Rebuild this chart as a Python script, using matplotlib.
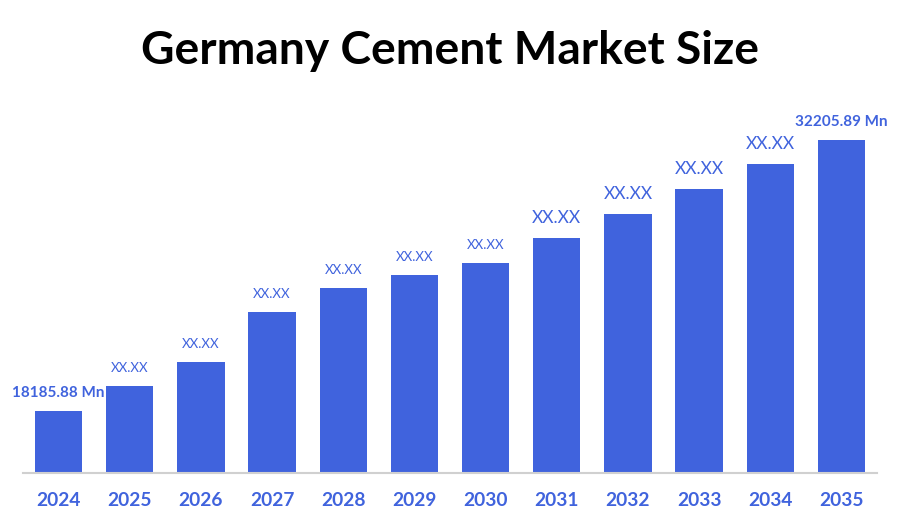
#!/usr/bin/env python3
"""Germany cement market size bar chart"""
import matplotlib
matplotlib.use('Agg')
import matplotlib.pyplot as plt

years = ['2024', '2025', '2026', '2027', '2028', '2029',
         '2030', '2031', '2032', '2033', '2034', '2035']
values = [18185.88, 19479, 20720, 23307, 24548, 25221,
          25842, 27135, 28377, 29670, 30963, 32205.89]
bar_labels = ['18185.88 Mn', 'XX.XX', 'XX.XX', 'XX.XX', 'XX.XX', 'XX.XX',
              'XX.XX', 'XX.XX', 'XX.XX', 'XX.XX', 'XX.XX', '32205.89 Mn']

BLUE = '#4063DD'
W, H = 900, 525

plt.rcParams['font.family'] = ['Lato', 'DejaVu Sans']

fig = plt.figure(figsize=(W / 100, H / 100), dpi=100, facecolor='white')
# axes placed in pixels: baseline at y=472, top of the tallest bar at y=140
ax = fig.add_axes([23 / W, (H - 472.5) / H, 854 / W, 332.5 / H])

bars = ax.bar(range(12), values, width=0.665, color=BLUE, zorder=2)
ax.set_xlim(-0.5, 11.5)
ax.set_ylim(15030, 32205.89)

for sp in ['top', 'left', 'right']:
    ax.spines[sp].set_visible(False)
ax.spines['bottom'].set_color('#D0D0D0')
ax.spines['bottom'].set_linewidth(1.5)
ax.set_yticks([])
ax.set_xticks(range(12))
ax.set_xticklabels(years, fontsize=13.8, fontweight='bold', color=BLUE)
ax.tick_params(axis='x', length=0, pad=14)

for i, (v, lab) in enumerate(zip(values, bar_labels)):
    if 'Mn' in lab:
        size, weight, gap = 11, 'bold', 11
    elif i >= 7:
        size, weight, gap = 12.5, 'normal', 12
    else:
        size, weight, gap = 9.5, 'normal', 12
    ax.annotate(lab, xy=(i, v), xytext=(0, gap), textcoords='offset pixels',
                ha='center', va='bottom', fontsize=size, fontweight=weight,
                color=BLUE, annotation_clip=False)

fig.text(450 / W, (H - 51) / H, 'Germany Cement Market Size', ha='center', va='center',
         fontsize=33.2, fontweight='bold', color='black')

plt.savefig('out.png', dpi=100)
plt.close()
